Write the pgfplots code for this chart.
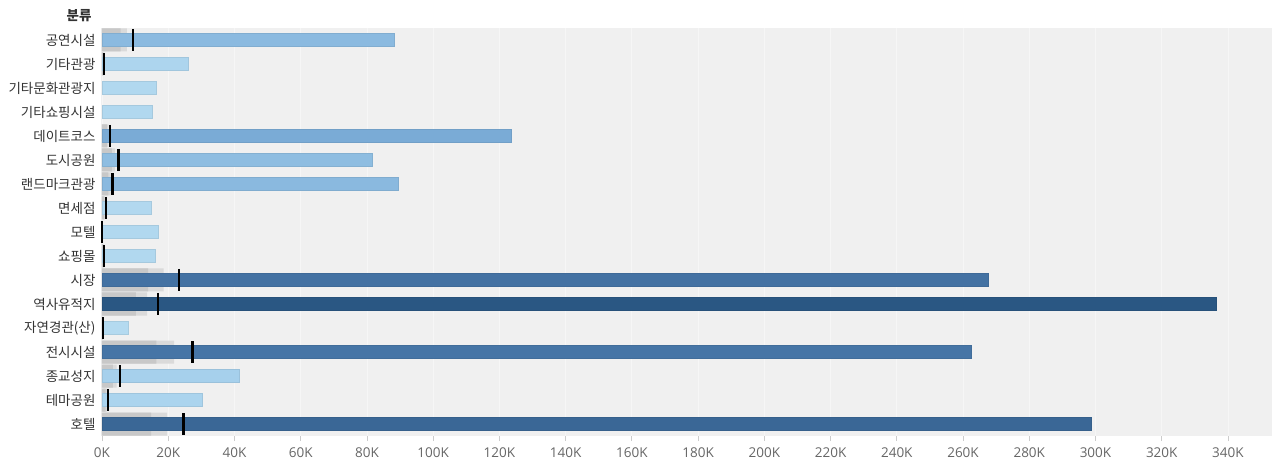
\documentclass[border=0pt]{standalone}
\usepackage{fontspec}
\setmainfont{Noto Sans CJK KR}
\newfontfamily\tickfont{Open Sans}
\usepackage{pgfplots}
\pgfplotsset{compat=1.18}
\definecolor{bgc}{HTML}{F0F0F0}
\definecolor{bandA}{HTML}{C8C8C8}
\definecolor{bandB}{HTML}{DADADA}
\definecolor{lab}{HTML}{333333}
\definecolor{tick}{HTML}{666666}
\definecolor{c0}{HTML}{8BBAE0}
\definecolor{c1}{HTML}{ADD5EE}
\definecolor{c2}{HTML}{B1D8EF}
\definecolor{c3}{HTML}{B1D8EF}
\definecolor{c4}{HTML}{7AABD6}
\definecolor{c5}{HTML}{8EBDE1}
\definecolor{c6}{HTML}{8AB9DF}
\definecolor{c7}{HTML}{B2D8EF}
\definecolor{c8}{HTML}{B1D8EF}
\definecolor{c9}{HTML}{B1D8EF}
\definecolor{c10}{HTML}{4472A3}
\definecolor{c11}{HTML}{2A5783}
\definecolor{c12}{HTML}{B4DAF0}
\definecolor{c13}{HTML}{4675A6}
\definecolor{c14}{HTML}{A6D0EC}
\definecolor{c15}{HTML}{ABD4EE}
\definecolor{c16}{HTML}{3A6796}
\begin{document}
\begin{tikzpicture}
\path[use as bounding box] (0,0) rectangle (1280pt,473pt);
\begin{axis}[
  at={(101pt,37pt)}, anchor=south west,
  scale only axis, width=1171pt, height=408pt,
  xmin=-0.3, xmax=353.3, ymin=-0.5, ymax=16.5, y dir=reverse,
  axis background/.style={fill=bgc},
  axis line style={draw=none},
  /pgf/number format/assume math mode=true,
  xtick={0,20,...,340},
  xticklabel={\pgfmathprintnumber{\tick}K},
  xticklabel style={font=\tickfont\fontsize{13.5}{15}\selectfont, color=tick, yshift=-3pt},
  x tick style={color=black!20, line width=0.8pt},
  major x tick style={color=black!20},
  xtick pos=bottom, tick align=outside, major tick length=5pt,
  ytick={0,...,16},
  y tick style={draw=none},
  yticklabels={공연시설,기타관광,기타문화관광지,기타쇼핑시설,데이트코스,도시공원,랜드마크관광,면세점,모텔,쇼핑몰,시장,역사유적지,자연경관(산),전시시설,종교성지,테마공원,호텔},
  yticklabel style={font=\fontsize{13.5}{15}\selectfont, color=lab, xshift=3pt},
  ytick pos=left,
  grid=major, xmajorgrids=true, ymajorgrids=false,
  major grid style={color=white!40!bgc, line width=0.8pt},
  clip=false,
]
% 80% band
\addplot[xbar, bar shift=0pt, bar width=23pt, fill=bandB, draw=none] coordinates {
(7.5,0) (0.48,1) (1.92,4) (4.0,5) (2.6,6) (0.88,7) (0.08,8) (0.56,9) (18.6,10) (13.6,11) (0.24,12) (21.8,13) (4.4,14) (1.44,15) (19.7,16)};
% 60% band
\addplot[xbar, bar shift=0pt, bar width=23pt, fill=bandA, draw=none] coordinates {
(5.6,0) (0.36,1) (1.44,4) (3.0,5) (1.9,6) (0.66,7) (0.06,8) (0.42,9) (13.9,10) (10.2,11) (0.18,12) (16.4,13) (3.3,14) (1.08,15) (14.8,16)};
% bars
\pgfplotsforeachungrouped \i/\v in {0/88.2,1/26.1,2/16.3,3/15.2,4/123.5,5/81.5,6/89.4,7/14.8,8/17.0,9/16.0,10/267.5,11/336.6,12/7.9,13/262.4,14/41.4,15/30.4,16/298.6}{
  \edef\tmp{\noexpand\addplot[xbar, bar shift=0pt, bar width=13pt, fill=c\i, draw=c\i!93!black, line width=0.5pt] coordinates {(\v,\i)};}
  \tmp
}
% reference lines (average)
\addplot[only marks, mark=|, mark size=11pt, mark options={line width=2.2pt, draw=black}] coordinates {
(9.4,0) (0.6,1) (2.4,4) (5.0,5) (3.2,6) (1.1,7) (0.1,8) (0.7,9) (23.2,10) (17.0,11) (0.3,12) (27.3,13) (5.5,14) (1.8,15) (24.6,16)};
\end{axis}
\node[anchor=east, font=\bfseries\fontsize{13.5}{15}\selectfont, color=lab] at (95pt,457pt) {분류};
\end{tikzpicture}
\end{document}
